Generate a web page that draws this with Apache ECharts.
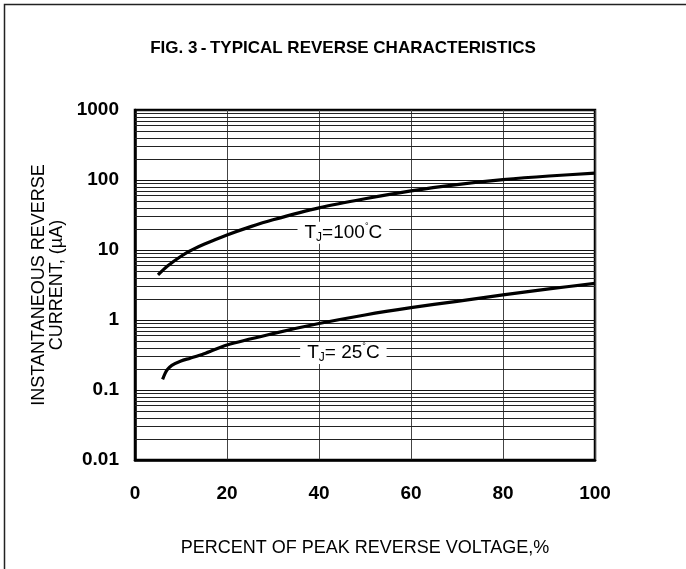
<!DOCTYPE html>
<html>
<head>
<meta charset="utf-8">
<script src="https://cdn.jsdelivr.net/npm/echarts@6/dist/echarts.min.js"></script>
<style>
  html, body { margin: 0; padding: 0; background: #fff; }
  #chart { width: 686px; height: 569px; }
</style>
</head>
<body>
<div id="chart"></div>
<script>
// percent of peak reverse voltage (x) and reverse current in uA (y)
const pct100 = [5, 7, 10, 12.5, 15, 20, 25, 30, 40, 50, 60, 70, 80, 90, 100];
const cur100 = [4.4, 5.85, 8.15, 10.1, 12.05, 16.4, 21.4, 27, 40, 54, 70, 86, 101, 114, 125];

const pct25 = [6, 6.5, 7, 8, 10, 12, 15, 20, 30, 40, 50, 60, 70, 80, 90, 100];
const cur25 = [0.142, 0.17, 0.195, 0.225, 0.26, 0.285, 0.33, 0.44, 0.64, 0.89, 1.18, 1.5, 1.85, 2.28, 2.78, 3.34];

const xTicks = [0, 20, 40, 60, 80, 100];
const yDecades = [0.01, 0.1, 1, 10, 100, 1000];

// where the curve labels sit (x %, current uA)
const label100At = [45.3, 17.7];
const label25At = [45.3, 0.338];

const font = 'Liberation Sans, Arial, sans-serif';

// 2..9 lines inside every decade for the log paper
const minorGrid = [];
yDecades.slice(0, -1).forEach(d => {
  for (let k = 2; k <= 9; k++) minorGrid.push({ yAxis: +(d * k).toPrecision(3) });
});

const zip = (xs, ys) => xs.map((x, i) => [x, ys[i]]);

const labelRich = {
  t: { fontSize: 19, fontFamily: font, color: '#000', lineHeight: 22 },
  s: { fontSize: 12, fontFamily: font, color: '#000', lineHeight: 12, verticalAlign: 'bottom' },
  d: { fontSize: 9, fontFamily: font, color: '#000', lineHeight: 12, verticalAlign: 'top' }
};

function curveLabel(coord, temp) {
  return {
    coord: coord,
    symbol: 'rect',
    symbolSize: 0,
    label: {
      show: true,
      position: 'inside',
      formatter: '{t|T}{s|J}{t|=' + temp + '}{d|°}{t|C}',
      rich: labelRich,
      backgroundColor: '#fff',
      padding: [0, 7]
    }
  };
}

const chart = echarts.init(document.getElementById('chart'), null, { renderer: 'canvas' });

chart.setOption({
  animation: false,
  backgroundColor: '#fff',
  title: {
    text: 'FIG. 3\u2009-\u2009TYPICAL REVERSE CHARACTERISTICS',
    left: 'center',
    top: 35,
    textStyle: { fontFamily: font, fontSize: 17, fontWeight: 'bold', color: '#000' }
  },
  graphic: [{
    type: 'polyline',
    shape: { points: [[4.5, 569], [4.5, 4.5], [686, 4.5]] },
    style: { stroke: '#222', lineWidth: 1.5, fill: null }
  }],
  grid: {
    left: 135, right: 91, top: 110, bottom: 109,
    show: true, borderColor: '#000', borderWidth: 2.5, backgroundColor: 'transparent'
  },
  xAxis: {
    type: 'value',
    min: 0, max: 100, interval: 20,
    name: 'PERCENT OF PEAK REVERSE VOLTAGE,%',
    nameLocation: 'middle',
    nameGap: 79,
    nameTextStyle: { fontFamily: font, fontSize: 18, color: '#000' },
    axisLine: { show: true, lineStyle: { color: '#000', width: 2.5 } },
    axisTick: { show: false },
    axisLabel: {
      margin: 24,
      fontFamily: font, fontSize: 19, fontWeight: 'bold', color: '#000',
      formatter: v => xTicks.includes(v) ? String(v) : ''
    },
    splitLine: { show: true, lineStyle: { color: '#444', width: 1 } }
  },
  yAxis: {
    type: 'log',
    logBase: 10,
    min: 0.01, max: 1000,
    splitNumber: 5,
    name: 'INSTANTANEOUS REVERSE\nCURRENT, (µA)',
    nameLocation: 'middle',
    nameGap: 69,
    nameTextStyle: { fontFamily: font, fontSize: 18, color: '#000', lineHeight: 18 },
    axisLine: { show: true, lineStyle: { color: '#000', width: 2.5 } },
    axisTick: { show: false },
    axisLabel: {
      margin: 16,
      fontFamily: font, fontSize: 19, fontWeight: 'bold', color: '#000',
      formatter: v => String(+(+v).toPrecision(3))
    },
    splitLine: { show: true, lineStyle: { color: '#111', width: 1 } }
  },
  series: [
    {
      name: 'TJ=100°C',
      type: 'line',
      smooth: 0.3,
      showSymbol: false,
      lineStyle: { color: '#000', width: 3.2 },
      data: zip(pct100, cur100),
      z: 5,
      markLine: {
        silent: true,
        symbol: ['none', 'none'],
        label: { show: false },
        lineStyle: { color: '#222', width: 1, type: 'solid' },
        data: minorGrid,
        z: 1
      },
      markPoint: { silent: true, data: [curveLabel(label100At, '100')] }
    },
    {
      name: 'TJ=25°C',
      type: 'line',
      smooth: 0.3,
      showSymbol: false,
      lineStyle: { color: '#000', width: 3.2 },
      data: zip(pct25, cur25),
      z: 5,
      markPoint: { silent: true, data: [curveLabel(label25At, ' 25')] }
    }
  ]
});
</script>
</body>
</html>
